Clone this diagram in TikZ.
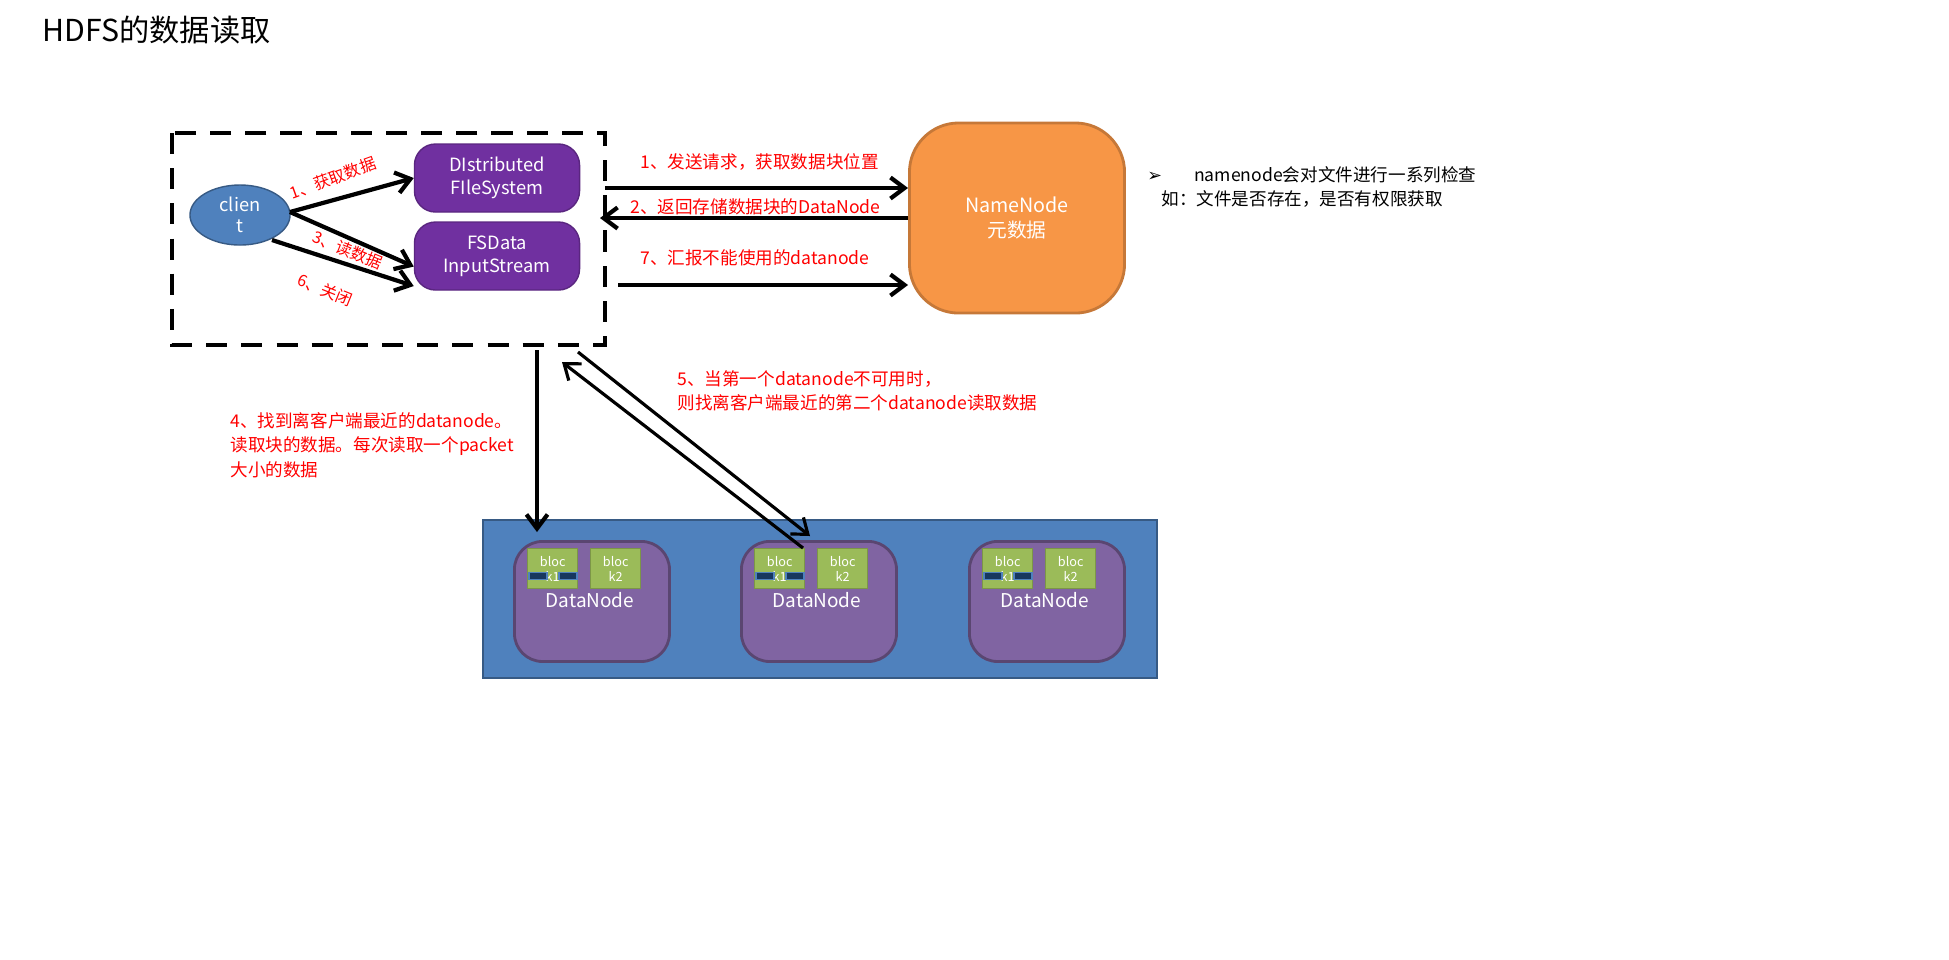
\documentclass[tikz,border=0pt]{standalone}
\usepackage{fontspec}
\setmainfont{Noto Sans CJK SC}
\newfontfamily\symfont{DejaVu Sans}
\usetikzlibrary{positioning, arrows.meta, shapes.geometric}
\definecolor{nodeblue}{HTML}{4F81BD}
\definecolor{fspurple}{HTML}{7030A0}
\definecolor{nnorange}{HTML}{F79646}
\definecolor{dnpurple}{HTML}{8064A2}
\definecolor{blkgreen}{HTML}{9BBB59}
\definecolor{notered}{HTML}{FF0000}
\definecolor{slotblue}{HTML}{17375E}

\begin{document}
\begin{tikzpicture}[
    x=0.01cm, y=-0.01cm,
    fsbox/.style={draw=fspurple!80!black, fill=fspurple, rounded corners=6pt, minimum width=1.65cm, minimum height=0.68cm, text=white, align=center, font=\fontsize{5.2pt}{6.4pt}\selectfont},
    dnbox/.style={draw=dnpurple!70!black, thick, fill=dnpurple, rounded corners=8pt, minimum width=1.55cm, minimum height=1.2cm, anchor=north west},
    blk/.style={draw=blkgreen!80!black, fill=blkgreen, minimum width=0.5cm, minimum height=0.4cm, anchor=north west, text=white, align=center, inner sep=0pt, font=\fontsize{3.6pt}{4.3pt}\selectfont},
    slot/.style={draw=nodeblue, fill=slotblue, minimum width=0.18cm, minimum height=0.07cm, inner sep=0pt},
    redtext/.style={text=notered, font=\fontsize{5pt}{7pt}\selectfont, align=left},
    tilted/.style={text=notered, font=\fontsize{4.6pt}{5pt}\selectfont, inner sep=0pt},
    fat/.style={line width=1.2pt, -{Straight Barb[length=4pt,width=6pt]}},
    thin/.style={line width=0.9pt, -{Straight Barb[length=4pt,width=6pt]}}
]
\useasboundingbox (0,0) rectangle (1949,959);

% Title
\node[anchor=west, font=\fontsize{8.6pt}{9pt}\selectfont] (title) at (30,30) {HDFS的数据读取};

% Client side
\draw[line width=1.1pt, dash pattern=on 6pt off 4pt] (172,133) rectangle (605,345);
\node[ellipse, draw=nodeblue!70!black, fill=nodeblue, minimum width=1cm, minimum height=0.6cm, inner sep=0pt, text=white, align=center, font=\fontsize{5.2pt}{6pt}\selectfont] (client) at (240,215) {clien\\t};
\node[fsbox] (dfs) at (497,178) {DIstributed\\FIleSystem};
\node[fsbox] (fsin) at (497,256) {FSData\\InputStream};
\coordinate (cl1) at (290,212);
\coordinate (cl2) at (272,240);
\draw[fat] (cl1) -- (dfs.west);
\draw[fat] (cl1) -- ([yshift=-3pt]fsin.west);
\draw[fat] (cl2) -- ([yshift=-0.3cm]fsin.west);
\node[tilted, rotate=20] (lbl1) at (333,178) {1、获取数据};
\node[tilted, rotate=-22] (lbl3) at (348,250) {3、读数据};
\node[tilted, rotate=-22] (lbl6) at (325,290) {6、关闭};

% NameNode
\node[draw=nnorange!80!black, thick, fill=nnorange, rounded corners=14pt, minimum width=2.15cm, minimum height=1.9cm, text=white, align=center, font=\fontsize{5.6pt}{7pt}\selectfont] (nn) at (1017,218) {NameNode\\元数据};
\coordinate (req) at (605,188);
\coordinate (ret) at (600,218);
\coordinate (rep) at (618,285);
\draw[fat] (req) -- (req -| nn.west);
\draw[fat] (ret -| nn.west) -- (ret);
\draw[fat] (rep) -- (rep -| nn.west);
\node[redtext, anchor=west] (lreq) at (628,162) {1、发送请求，获取数据块位置};
\node[redtext, anchor=west] (lret) at (618,207) {2、返回存储数据块的DataNode};
\node[redtext, anchor=west] (lrep) at (628,258) {7、汇报不能使用的datanode};
\node[anchor=west, align=left, font=\fontsize{5pt}{7pt}\selectfont] (note) at (1135,187) {{\symfont ➢}\hspace{8pt} namenode会对文件进行一系列检查\\\hspace{4pt}如：文件是否存在，是否有权限获取};

% DataNodes
\draw[draw=nodeblue!70!black, fill=nodeblue] (483,520) rectangle (1157,678);
\foreach \i/\x in {1/513, 2/740, 3/968} {
    \node[dnbox] (dn\i) at (\x,540) {};
    \node[text=white, font=\fontsize{5.4pt}{6pt}\selectfont] (dnl\i) at (\x+77,600) {DataNode};
    \node[blk] (b\i a) at (\x+14,548) {bloc\\k1};
    \node[blk] (b\i b) at (\x+77,548) {bloc\\k2};
    \node[slot] (s\i a) at (\x+25,576) {};
    \node[slot] (s\i b) at (\x+55,576) {};
}

% Reads from DataNodes
\coordinate (rd4) at (537,350);
\draw[fat] (rd4) -- (537,532);
\coordinate (up5) at (803,548);
\coordinate (dn5) at (578,352);
\draw[thin] (up5) -- (562,362);
\draw[thin] (dn5) -- (810,536);
\node[redtext, anchor=north west] (l4) at (218,400) {4、找到离客户端最近的datanode。\\读取块的数据。每次读取一个packet\\大小的数据};
\node[redtext, anchor=north west] (l5) at (665,358) {5、当第一个datanode不可用时，\\则找离客户端最近的第二个datanode读取数据};
\end{tikzpicture}
\end{document}
